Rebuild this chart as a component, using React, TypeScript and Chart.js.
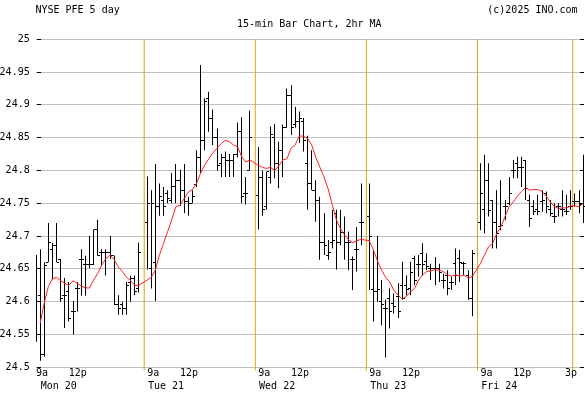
import React, { useEffect, useRef } from 'react';
import { Chart, registerables } from 'chart.js';

Chart.register(...registerables);

// ---------- data ----------
const titleLeft = 'NYSE PFE 5 day';
const titleRight = '(c)2025 INO.com';
const subtitle = '15-min Bar Chart, 2hr MA';
const dayLabels = ['Mon 20', 'Tue 21', 'Wed 22', 'Thu 23', 'Fri 24'];
const timeLabels = ['9a', '12p', '3p'];
const BARS_PER_DAY = 26;
const SLOTS_PER_DAY = 27;

const opens = [
  // Mon
  24.615, 24.609, 24.52, 24.66, 24.68, 24.686, 24.665, 24.609, 24.615, 24.585, 24.62, 24.665, 24.656,
  24.656, 24.656, 24.71, 24.675, 24.675, 24.675, 24.67, 24.595, 24.595, 24.59, 24.63, 24.636, 24.62,
  // Tue
  24.72, 24.65, 24.66, 24.745, 24.755, 24.765, 24.755, 24.775, 24.785, 24.77, 24.752, 24.75, 24.778,
  24.82, 24.845, 24.91, 24.88, 24.85, 24.81, 24.82, 24.815, 24.815, 24.825, 24.86, 24.765, 24.8,
  // Wed
  24.762, 24.79, 24.745, 24.79, 24.85, 24.81, 24.83, 24.865, 24.915, 24.87, 24.875, 24.875, 24.81,
  24.78, 24.77, 24.755, 24.69, 24.67, 24.69, 24.735, 24.69, 24.705, 24.69, 24.665, 24.68, 24.72,
  // Thu
  24.73, 24.618, 24.615, 24.6, 24.59, 24.605, 24.597, 24.608, 24.625, 24.625, 24.62, 24.666, 24.656,
  24.674, 24.661, 24.65, 24.65, 24.65, 24.633, 24.64, 24.63, 24.658, 24.666, 24.658, 24.64, 24.605,
  // Fri
  24.72, 24.74, 24.785, 24.755, 24.72, 24.715, 24.745, 24.75, 24.8, 24.81, 24.805, 24.816, 24.755,
  24.745, 24.74, 24.752, 24.765, 24.74, 24.73, 24.745, 24.74, 24.737, 24.745, 24.753, 24.753, 24.75,
];

const highs = [
  // Mon
  24.671, 24.68, 24.66, 24.72, 24.69, 24.72, 24.665, 24.636, 24.63, 24.601, 24.63, 24.68, 24.67,
  24.7, 24.71, 24.725, 24.68, 24.68, 24.7, 24.67, 24.61, 24.6, 24.63, 24.64, 24.64, 24.69,
  // Tue
  24.791, 24.77, 24.81, 24.78, 24.775, 24.77, 24.796, 24.81, 24.801, 24.81, 24.76, 24.77, 24.831,
  24.961, 24.91, 24.92, 24.893, 24.864, 24.825, 24.829, 24.825, 24.825, 24.873, 24.881, 24.79, 24.891,
  // Wed
  24.836, 24.8, 24.798, 24.867, 24.871, 24.844, 24.87, 24.925, 24.93, 24.897, 24.89, 24.88, 24.853,
  24.831, 24.785, 24.76, 24.735, 24.694, 24.74, 24.74, 24.74, 24.73, 24.707, 24.669, 24.714, 24.78,
  // Thu
  24.78, 24.679, 24.7, 24.633, 24.603, 24.62, 24.613, 24.628, 24.661, 24.64, 24.661, 24.67, 24.671,
  24.689, 24.674, 24.658, 24.668, 24.658, 24.643, 24.648, 24.638, 24.681, 24.679, 24.661, 24.648, 24.679,
  // Fri
  24.811, 24.824, 24.811, 24.755, 24.77, 24.785, 24.755, 24.79, 24.816, 24.821, 24.821, 24.816, 24.763,
  24.755, 24.763, 24.77, 24.768, 24.755, 24.75, 24.75, 24.77, 24.763, 24.77, 24.765, 24.77, 24.824,
];

const lows = [
  // Mon
  24.539, 24.51, 24.516, 24.66, 24.634, 24.66, 24.6, 24.56, 24.57, 24.55, 24.585, 24.609, 24.609,
  24.651, 24.656, 24.67, 24.656, 24.64, 24.665, 24.595, 24.58, 24.58, 24.58, 24.6, 24.61, 24.614,
  // Tue
  24.649, 24.62, 24.601, 24.731, 24.731, 24.75, 24.75, 24.75, 24.746, 24.735, 24.731, 24.75, 24.775,
  24.796, 24.831, 24.859, 24.839, 24.8, 24.79, 24.79, 24.79, 24.79, 24.82, 24.75, 24.748, 24.8,
  // Wed
  24.71, 24.731, 24.74, 24.78, 24.788, 24.773, 24.79, 24.865, 24.854, 24.865, 24.842, 24.829, 24.74,
  24.77, 24.722, 24.664, 24.671, 24.664, 24.681, 24.649, 24.686, 24.664, 24.648, 24.618, 24.646, 24.686,
  // Thu
  24.618, 24.57, 24.6, 24.564, 24.515, 24.559, 24.582, 24.575, 24.603, 24.61, 24.61, 24.625, 24.638,
  24.64, 24.648, 24.633, 24.625, 24.63, 24.62, 24.61, 24.618, 24.625, 24.63, 24.64, 24.603, 24.578,
  // Fri
  24.709, 24.704, 24.73, 24.681, 24.681, 24.709, 24.724, 24.747, 24.788, 24.788, 24.775, 24.755, 24.714,
  24.732, 24.732, 24.737, 24.735, 24.73, 24.72, 24.73, 24.73, 24.732, 24.74, 24.745, 24.735, 24.72,
];

const closes = [
  // Mon
  24.609, 24.52, 24.655, 24.69, 24.686, 24.66, 24.605, 24.609, 24.575, 24.585, 24.62, 24.665, 24.656,
  24.656, 24.71, 24.67, 24.675, 24.675, 24.67, 24.595, 24.59, 24.59, 24.625, 24.636, 24.615, 24.675,
  // Tue
  24.75, 24.75, 24.745, 24.76, 24.745, 24.757, 24.775, 24.785, 24.77, 24.752, 24.75, 24.76, 24.82,
  24.845, 24.905, 24.88, 24.85, 24.808, 24.82, 24.815, 24.816, 24.825, 24.86, 24.76, 24.765, 24.85,
  // Wed
  24.79, 24.74, 24.798, 24.855, 24.81, 24.83, 24.865, 24.915, 24.866, 24.875, 24.88, 24.845, 24.78,
  24.77, 24.755, 24.69, 24.685, 24.675, 24.694, 24.69, 24.705, 24.69, 24.69, 24.665, 24.68, 24.72,
  // Thu
  24.7, 24.615, 24.618, 24.595, 24.59, 24.585, 24.592, 24.585, 24.605, 24.618, 24.645, 24.633, 24.656,
  24.656, 24.653, 24.65, 24.65, 24.645, 24.633, 24.62, 24.63, 24.64, 24.66, 24.658, 24.605, 24.673,
  // Fri
  24.765, 24.785, 24.739, 24.72, 24.704, 24.716, 24.745, 24.765, 24.8, 24.805, 24.805, 24.773, 24.727,
  24.737, 24.737, 24.755, 24.745, 24.735, 24.73, 24.745, 24.74, 24.737, 24.745, 24.753, 24.748, 24.745,
];

const ma2hr = [
  // Mon
  24.614, 24.567, 24.598, 24.623, 24.635, 24.637, 24.632, 24.628, 24.625, 24.632, 24.628, 24.624, 24.621,
  24.621, 24.633, 24.643, 24.656, 24.666, 24.671, 24.664, 24.653, 24.646, 24.637, 24.632, 24.625, 24.625,
  // Tue
  24.633, 24.637, 24.648, 24.671, 24.689, 24.707, 24.725, 24.745, 24.747, 24.757, 24.767, 24.771, 24.78,
  24.796, 24.808, 24.818, 24.827, 24.834, 24.841, 24.846, 24.844, 24.839, 24.836, 24.821, 24.813, 24.816,
  // Wed
  24.808, 24.805, 24.803, 24.805, 24.8, 24.807, 24.816, 24.818, 24.834, 24.839, 24.853, 24.852, 24.849,
  24.839, 24.82, 24.805, 24.79, 24.772, 24.748, 24.725, 24.711, 24.702, 24.694, 24.69, 24.693, 24.695,
  // Thu
  24.693, 24.679, 24.662, 24.648, 24.637, 24.63, 24.617, 24.61, 24.604, 24.608, 24.615, 24.62, 24.633,
  24.641, 24.646, 24.647, 24.649, 24.648, 24.646, 24.641, 24.639, 24.641, 24.639, 24.641, 24.636, 24.638,
  // Fri
  24.658, 24.671, 24.684, 24.689, 24.704, 24.714, 24.73, 24.745, 24.752, 24.761, 24.768, 24.774, 24.77,
  24.771, 24.771, 24.768, 24.761, 24.752, 24.745, 24.742, 24.743, 24.743, 24.746, 24.746, 24.745, 24.75,
];

const Y_MIN = 24.5;
const Y_MAX = 25;
const Y_STEP = 0.05;

// ---------- layout helpers (positions on the bar-slot axis) ----------
const X_MIN = 1.84;
const X_MAX = 132.92;
const BAR_OFFSET = 0.7;
const xOf = (i: number) =>
  Math.floor(i / BARS_PER_DAY) * SLOTS_PER_DAY + (i % BARS_PER_DAY) + BAR_OFFSET;

const FONT_FAMILY = '"DejaVu Sans Mono", monospace';

export default function App() {
  const ref = useRef<HTMLCanvasElement | null>(null);

  useEffect(() => {
    if (!ref.current) return;

    const makeTick = (left: boolean) => {
      const c = document.createElement('canvas');
      c.width = 5;
      c.height = 1;
      const g = c.getContext('2d')!;
      g.fillStyle = '#000';
      g.fillRect(left ? 0 : 3, 0, 2, 1);
      return c;
    };
    const openImg = makeTick(true);
    const closeImg = makeTick(false);

    const timeTickVals: number[] = [];
    const timeTickText: string[] = [];
    dayLabels.forEach((_, d) => {
      timeTickVals.push(d * SLOTS_PER_DAY + 2.18);
      timeTickText.push(timeLabels[0]);
      timeTickVals.push(d * SLOTS_PER_DAY + 10.87);
      timeTickText.push(timeLabels[1]);
      if (d === dayLabels.length - 1) {
        timeTickVals.push(d * SLOTS_PER_DAY + 22.74);
        timeTickText.push(timeLabels[2]);
      }
    });
    const dayTickVals = dayLabels.map((_, d) => Math.max(d * SLOTS_PER_DAY + 5.3, X_MIN + 4.4));

    const separators = [1, 2, 3, 4].map((d) => d * SLOTS_PER_DAY);
    separators.push(4 * SLOTS_PER_DAY + 23.15); // Fri 3p marker

    const font = { family: FONT_FAMILY, size: 10 };

    const header = {
      id: 'header',
      afterDraw(chart: any) {
        const ctx = chart.ctx;
        ctx.save();
        ctx.font = `10px ${FONT_FAMILY}`;
        ctx.fillStyle = '#000';
        ctx.textBaseline = 'middle';
        ctx.textAlign = 'left';
        ctx.fillText(titleLeft, 35.4, 10.5);
        ctx.textAlign = 'right';
        ctx.fillText(titleRight, 577.6, 10.5);
        ctx.textAlign = 'center';
        ctx.fillText(subtitle, 309.3, 24.5);
        ctx.restore();
      },
    };

    // snap OHLC marks onto whole pixels so the 1px strokes stay crisp
    const snap = {
      id: 'snap',
      afterDatasetsUpdate(chart: any) {
        chart.data.datasets.forEach((ds: any, i: number) => {
          if (!ds.ohlc) return;
          const meta = chart.getDatasetMeta(i);
          meta.data.forEach((el: any) => {
            el.x = Math.round(el.x - 0.5) + 0.5;
            if (ds.type === 'scatter') el.y = Math.round(el.y - 0.5) + 0.5;
          });
        });
      },
    };

    const common = { xAxisID: 'x', yAxisID: 'y', clip: false as any };

    const datasets: any[] = [
      {
        ...common,
        type: 'line',
        data: ma2hr.map((v, i) => ({ x: xOf(i), y: v })),
        borderColor: '#ff2020',
        borderWidth: 1,
        pointRadius: 0,
        tension: 0,
        fill: false,
        spanGaps: true,
      },
      {
        ...common,
        ohlc: true,
        type: 'bar',
        data: highs.map((h, i) => ({ x: xOf(i), y: [lows[i], h] })),
        backgroundColor: '#000',
        borderWidth: 0,
        barThickness: 1,
        inflateAmount: 0,
      },
      {
        ...common,
        ohlc: true,
        type: 'scatter',
        data: opens.map((v, i) => ({ x: xOf(i), y: v })),
        pointStyle: openImg,
        pointRadius: 4,
        showLine: false,
      },
      {
        ...common,
        ohlc: true,
        type: 'scatter',
        data: closes.map((v, i) => ({ x: xOf(i), y: v })),
        pointStyle: closeImg,
        pointRadius: 4,
        showLine: false,
      },
      ...separators.map((s) => ({
        ...common,
        type: 'line',
        data: [
          { x: s, y: Y_MIN - 0.0045 },
          { x: s, y: Y_MAX },
        ],
        borderColor: '#e8a010',
        borderWidth: 1,
        pointRadius: 0,
      })),
    ];

    const xAxisBase = (vals: number[], texts: string[], h: number, weight: number) => ({
      type: 'linear',
      position: 'bottom',
      min: X_MIN,
      max: X_MAX,
      offset: false,
      weight,
      grid: { display: false, drawTicks: false, offset: false },
      border: { display: false },
      afterBuildTicks: (s: any) => {
        s.ticks = vals.map((v) => ({ value: v }));
      },
      afterFit: (s: any) => {
        s.height = h;
      },
      ticks: {
        autoSkip: false,
        maxRotation: 0,
        minRotation: 0,
        padding: 0,
        font,
        color: '#000',
        callback: (_v: any, i: number) => texts[i],
      },
    });

    const chart = new Chart(ref.current, {
      type: 'bar',
      data: { datasets },
      plugins: [header, snap],
      options: {
        responsive: false,
        animation: false,
        devicePixelRatio: 1,
        events: [],
        layout: { padding: { top: 39.3, left: 0, right: 0, bottom: 0 } },
        plugins: { legend: { display: false }, tooltip: { enabled: false }, title: { display: false } },
        scales: {
          x: xAxisBase(timeTickVals, timeTickText, 12.7, 0),
          x2: xAxisBase(dayTickVals, dayLabels, 14, 1),
          y: {
            type: 'linear',
            position: 'left',
            min: Y_MIN,
            max: Y_MAX,
            grid: { color: '#c0c0c0', tickColor: '#000', tickLength: 4, lineWidth: 1 },
            border: { display: false },
            afterFit: (s: any) => {
              s.width = 40.7;
            },
            ticks: {
              stepSize: Y_STEP,
              font,
              color: '#000',
              padding: 7,
              callback: (v: any) => String(Number(Number(v).toFixed(2))),
            },
          },
          yR: {
            type: 'linear',
            position: 'right',
            min: Y_MIN,
            max: Y_MAX,
            grid: { drawOnChartArea: false, tickColor: '#000', tickLength: 4 },
            border: { display: false },
            afterFit: (s: any) => {
              s.width = 4;
            },
            ticks: { stepSize: Y_STEP, display: false },
          },
        },
      } as any,
    });

    return () => chart.destroy();
  }, []);

  return (
    <div style={{ position: 'absolute', left: 0, top: 0, width: 585, height: 394, background: '#fff' }}>
      <canvas ref={ref} width={585} height={394} style={{ display: 'block', width: 585, height: 394 }} />
    </div>
  );
}
